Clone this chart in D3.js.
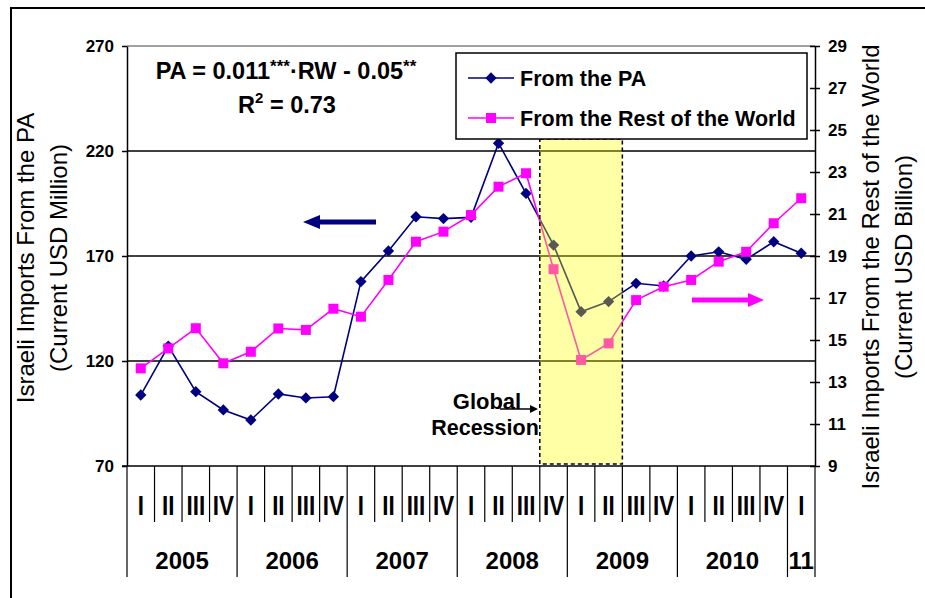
<!DOCTYPE html>
<html><head><meta charset="utf-8">
<script src="https://cdn.jsdelivr.net/npm/d3@7"></script>
<style>
html,body{margin:0;padding:0;background:#fff;}
svg{display:block;font-family:Arial,"Liberation Sans",sans-serif;}
</style></head>
<body>
<svg id="chart" width="925" height="598"></svg>
<script>
// ---- data ----
const quarters = ["I","II","III","IV","I","II","III","IV","I","II","III","IV","I","II","III","IV","I","II","III","IV","I","II","III","IV","I"];
const years = ["2005","2006","2007","2008","2009","2010","11"];
const yearQuarterCounts = [4,4,4,4,4,4,1];
const fromPA = [103.8,127.1,105.4,96.7,91.9,104.3,102.4,103.0,157.8,172.4,188.7,187.8,188.4,223.7,199.8,175.2,143.5,148.3,157.0,155.7,170.0,172.0,168.4,176.8,171.3];
const fromRW = [13.65,14.6,15.56,13.89,14.44,15.55,15.48,16.49,16.11,17.86,19.68,20.16,20.95,22.3,22.94,18.37,14.05,14.84,16.9,17.54,17.86,18.73,19.2,20.56,21.75];
const leftTicks = [70,120,170,220,270];
const rightTicks = [9,11,13,15,17,19,21,23,25,27,29];
const recession = {startQ:15, endQ:18, lowRW:9.1, highRW:24.57};
const seriesNames = ["From the PA","From the Rest of the World"];

const NAVY="#000080", MAG="#FF00FF";
const svg = d3.select("#chart");
const L=127, R=815, T=46, B=466;
const x = d3.scaleLinear().domain([0, quarters.length]).range([L, R]);
const yL = d3.scaleLinear().domain([70,270]).range([B,T]);
const yR = d3.scaleLinear().domain([9,29]).range([B,T]);
const cx = i => x(i+0.5);

// outer frame
svg.append("path").attr("d","M11,598 V8 H925").attr("fill","none").attr("stroke","#000").attr("stroke-width",2);

// gridlines
svg.append("g").selectAll("line").data(leftTicks.filter(v=>v>70&&v<270)).join("line")
  .attr("x1",L).attr("x2",R).attr("y1",d=>yL(d)).attr("y2",d=>yL(d))
  .attr("stroke","#000").attr("stroke-width",1.5);
svg.append("line").attr("x1",L).attr("x2",R).attr("y1",yL(270)).attr("y2",yL(270))
  .attr("stroke","#808080").attr("stroke-width",1.5);

// left axis
const gL = svg.append("g").attr("transform",`translate(${L},0)`)
  .call(d3.axisLeft(yL).tickValues(leftTicks).tickSize(5).tickSizeOuter(0).tickPadding(8));
gL.select(".domain").attr("stroke","#000").attr("stroke-width",1.5);
gL.selectAll(".tick line").attr("stroke","#000").attr("stroke-width",1.5);
gL.selectAll(".tick text").attr("font-size",17).attr("font-weight","bold").attr("fill","#000")
  .attr("font-family","Arial, 'Liberation Sans', sans-serif");

// right axis
const gR = svg.append("g").attr("transform",`translate(${R},0)`)
  .call(d3.axisRight(yR).tickValues(rightTicks).tickSize(5).tickSizeOuter(0).tickPadding(8));
gR.select(".domain").attr("stroke","#000").attr("stroke-width",1.5);
gR.selectAll(".tick line").attr("x1",-5).attr("stroke","#000").attr("stroke-width",1.5);
gR.selectAll(".tick text").attr("font-size",17).attr("font-weight","bold").attr("fill","#000")
  .attr("font-family","Arial, 'Liberation Sans', sans-serif");

// x axis line
svg.append("line").attr("x1",L-5).attr("x2",R).attr("y1",B).attr("y2",B).attr("stroke","#000").attr("stroke-width",1.5);

// category separators
const yearBounds = [0]; yearQuarterCounts.reduce((a,c)=>{yearBounds.push(a+c);return a+c;},0);
svg.append("g").selectAll("line").data(d3.range(quarters.length+1)).join("line")
  .attr("x1",d=>x(d)).attr("x2",d=>x(d)).attr("y1",B)
  .attr("y2",d=>yearBounds.includes(d)?577:522)
  .attr("stroke","#000").attr("stroke-width",1.2);
svg.append("g").selectAll("text").data(quarters).join("text")
  .attr("transform",(d,i)=>`translate(${cx(i)},515) scale(0.8,1)`)
  .attr("text-anchor","middle").attr("font-size",28).attr("font-weight","bold").text(d=>d);
svg.append("g").selectAll("text").data(years).join("text")
  .attr("x",(d,i)=>x((yearBounds[i]+yearBounds[i+1])/2)).attr("y",569)
  .attr("text-anchor","middle").attr("font-size",24).attr("font-weight","bold").text(d=>d);

// series
const diamond = d3.symbol().type(d3.symbolSquare).size(64);
const square = d3.symbol().type(d3.symbolSquare).size(100);
const linePA = d3.line().x((d,i)=>cx(i)).y(d=>yL(d));
const lineRW = d3.line().x((d,i)=>cx(i)).y(d=>yR(d));
svg.append("path").datum(fromPA).attr("d",linePA).attr("fill","none").attr("stroke",NAVY).attr("stroke-width",1.6);
svg.append("g").selectAll("path").data(fromPA).join("path")
  .attr("d",diamond).attr("transform",(d,i)=>`translate(${cx(i)},${yL(d)}) rotate(45)`).attr("fill",NAVY);
svg.append("path").datum(fromRW).attr("d",lineRW).attr("fill","none").attr("stroke",MAG).attr("stroke-width",1.6);
svg.append("g").selectAll("path").data(fromRW).join("path")
  .attr("d",square).attr("transform",(d,i)=>`translate(${cx(i)},${yR(d)})`).attr("fill",MAG);

// recession box (translucent, on top)
const bx0 = x(recession.startQ), bx1 = x(recession.endQ), by0 = yR(recession.highRW), by1 = yR(recession.lowRW);
svg.append("rect").attr("x",bx0).attr("y",by0).attr("width",bx1-bx0).attr("height",by1-by0)
  .attr("fill","#FFFF00").attr("fill-opacity",0.35);
svg.append("rect").attr("x",bx0).attr("y",by0).attr("width",bx1-bx0).attr("height",by1-by0)
  .attr("fill","none").attr("stroke","#000").attr("stroke-width",1.5).attr("stroke-dasharray","4,3");

// legend
const lg = svg.append("g");
lg.append("rect").attr("x",456).attr("y",53).attr("width",351).attr("height",86)
  .attr("fill","#fff").attr("stroke","#000").attr("stroke-width",1.5);
const legY = [78,118];
lg.append("line").attr("x1",468).attr("x2",514).attr("y1",legY[0]).attr("y2",legY[0]).attr("stroke",NAVY).attr("stroke-width",1.6);
lg.append("path").attr("d",diamond).attr("transform",`translate(491,${legY[0]}) rotate(45)`).attr("fill",NAVY);
lg.append("line").attr("x1",468).attr("x2",514).attr("y1",legY[1]).attr("y2",legY[1]).attr("stroke",MAG).attr("stroke-width",1.6);
lg.append("path").attr("d",square).attr("transform",`translate(491,${legY[1]})`).attr("fill",MAG);
lg.selectAll("text").data(seriesNames).join("text")
  .attr("x",520).attr("y",(d,i)=>legY[i]+8).attr("font-size",21.5).attr("font-weight","bold")
  .text(d=>d);

// equation
const eq = svg.append("text").attr("x",286).attr("y",79).attr("text-anchor","middle")
  .attr("font-size",23.5).attr("font-weight","bold");
eq.append("tspan").text("PA = 0.011");
eq.append("tspan").attr("font-size",17).attr("dy",-7).text("***");
eq.append("tspan").attr("dy",7).text("·RW - 0.05");
eq.append("tspan").attr("font-size",17).attr("dy",-7).text("**");
const r2 = svg.append("text").attr("x",287).attr("y",113).attr("text-anchor","middle")
  .attr("font-size",23.5).attr("font-weight","bold");
r2.append("tspan").text("R");
r2.append("tspan").attr("font-size",15).attr("dy",-10).text("2");
r2.append("tspan").attr("dy",10).text(" = 0.73");

// axis titles
const tL = svg.append("g").attr("transform","translate(0,258)");
tL.append("text").attr("transform","translate(34,0) rotate(-90)").attr("text-anchor","middle").attr("font-size",24).text("Israeli Imports From the PA");
tL.append("text").attr("transform","translate(67,0) rotate(-90)").attr("text-anchor","middle").attr("font-size",24).text("(Current USD Million)");
const tR = svg.append("g").attr("transform","translate(0,267)");
tR.append("text").attr("transform","translate(879,0) rotate(-90)").attr("text-anchor","middle").attr("font-size",24).text("Israeli Imports From the Rest of the World");
tR.append("text").attr("transform","translate(912,0) rotate(-90)").attr("text-anchor","middle").attr("font-size",24).text("(Current USD Billion)");

// direction arrows
svg.append("line").attr("x1",318).attr("x2",376).attr("y1",222).attr("y2",222).attr("stroke",NAVY).attr("stroke-width",5);
svg.append("path").attr("d","M303,222 L320,215 L320,229 Z").attr("fill",NAVY);
svg.append("line").attr("x1",692).attr("x2",750).attr("y1",300).attr("y2",300).attr("stroke",MAG).attr("stroke-width",5);
svg.append("path").attr("d","M764,300 L748,293 L748,307 Z").attr("fill",MAG);

// Global recession annotation
svg.append("text").attr("x",487).attr("y",409).attr("text-anchor","middle").attr("font-size",22).attr("font-weight","bold").text("Global");
svg.append("text").attr("x",485).attr("y",435).attr("text-anchor","middle").attr("font-size",21.5).attr("font-weight","bold").text("Recession");
svg.append("line").attr("x1",500).attr("x2",531).attr("y1",409).attr("y2",409).attr("stroke","#000").attr("stroke-width",1.5);
svg.append("path").attr("d","M538,409 L530,405 L530,413 Z").attr("fill","#000");
</script>
</body></html>
